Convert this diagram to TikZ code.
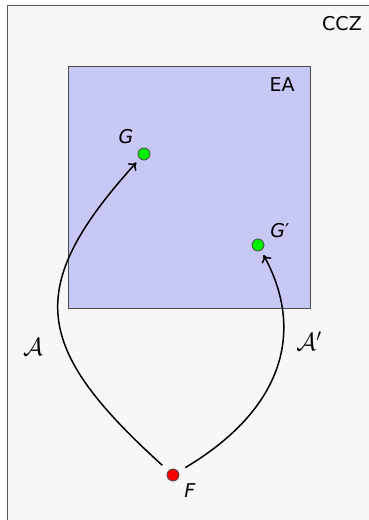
\documentclass[tikz,border=0pt]{standalone}
\usepackage{fontspec}
\setmainfont{DejaVu Sans}
\usetikzlibrary{arrows.meta}
\definecolor{outerfill}{RGB}{247,247,247}
\definecolor{eafill}{RGB}{200,200,247}
\definecolor{dotgreen}{RGB}{0,238,0}

\begin{document}
\begin{tikzpicture}[x=1pt, y=-1pt, font=\fontsize{19}{23}\selectfont,
  dot/.style={circle, draw=black!70, line width=0.8pt, inner sep=0pt, minimum size=12pt},
  map/.style={line width=1.5pt, -{To[length=7pt,width=11pt]}, shorten <=8pt, shorten >=5pt},
  maplabel/.style={font=\fontsize{25}{30}\selectfont}]
  \useasboundingbox (0,0) rectangle (368,520);
  \draw[fill=outerfill, draw=black!65, line width=1pt] (7,5) rectangle (372,526);
  \draw[fill=eafill, draw=black!70, line width=1pt] (68,66) rectangle (310,308);

  \node (ccz) at (342,24) {CCZ};
  \node (ea) at (282,85) {EA};

  \node[dot, fill=dotgreen] (G) at (144,154) {};
  \node[dot, fill=dotgreen] (Gp) at (258,245) {};
  \node[dot, fill=red] (F) at (173,475) {};

  \node (Glab) at (126,137) {\textit{G}};
  \node (Gplab) at (280,231) {\textit{G}′};
  \node (Flab) at (190,491) {\textit{F}};

  \draw[map] (F) .. controls (33,348) and (23,288) .. (G);
  \draw[map] (F) .. controls (290,405) and (302,325) .. (Gp);

  \node[maplabel] (A) at (33,347) {$\mathcal{A}$};
  \node[maplabel] (Ap) at (309,341) {$\mathcal{A}'$};
\end{tikzpicture}
\end{document}
